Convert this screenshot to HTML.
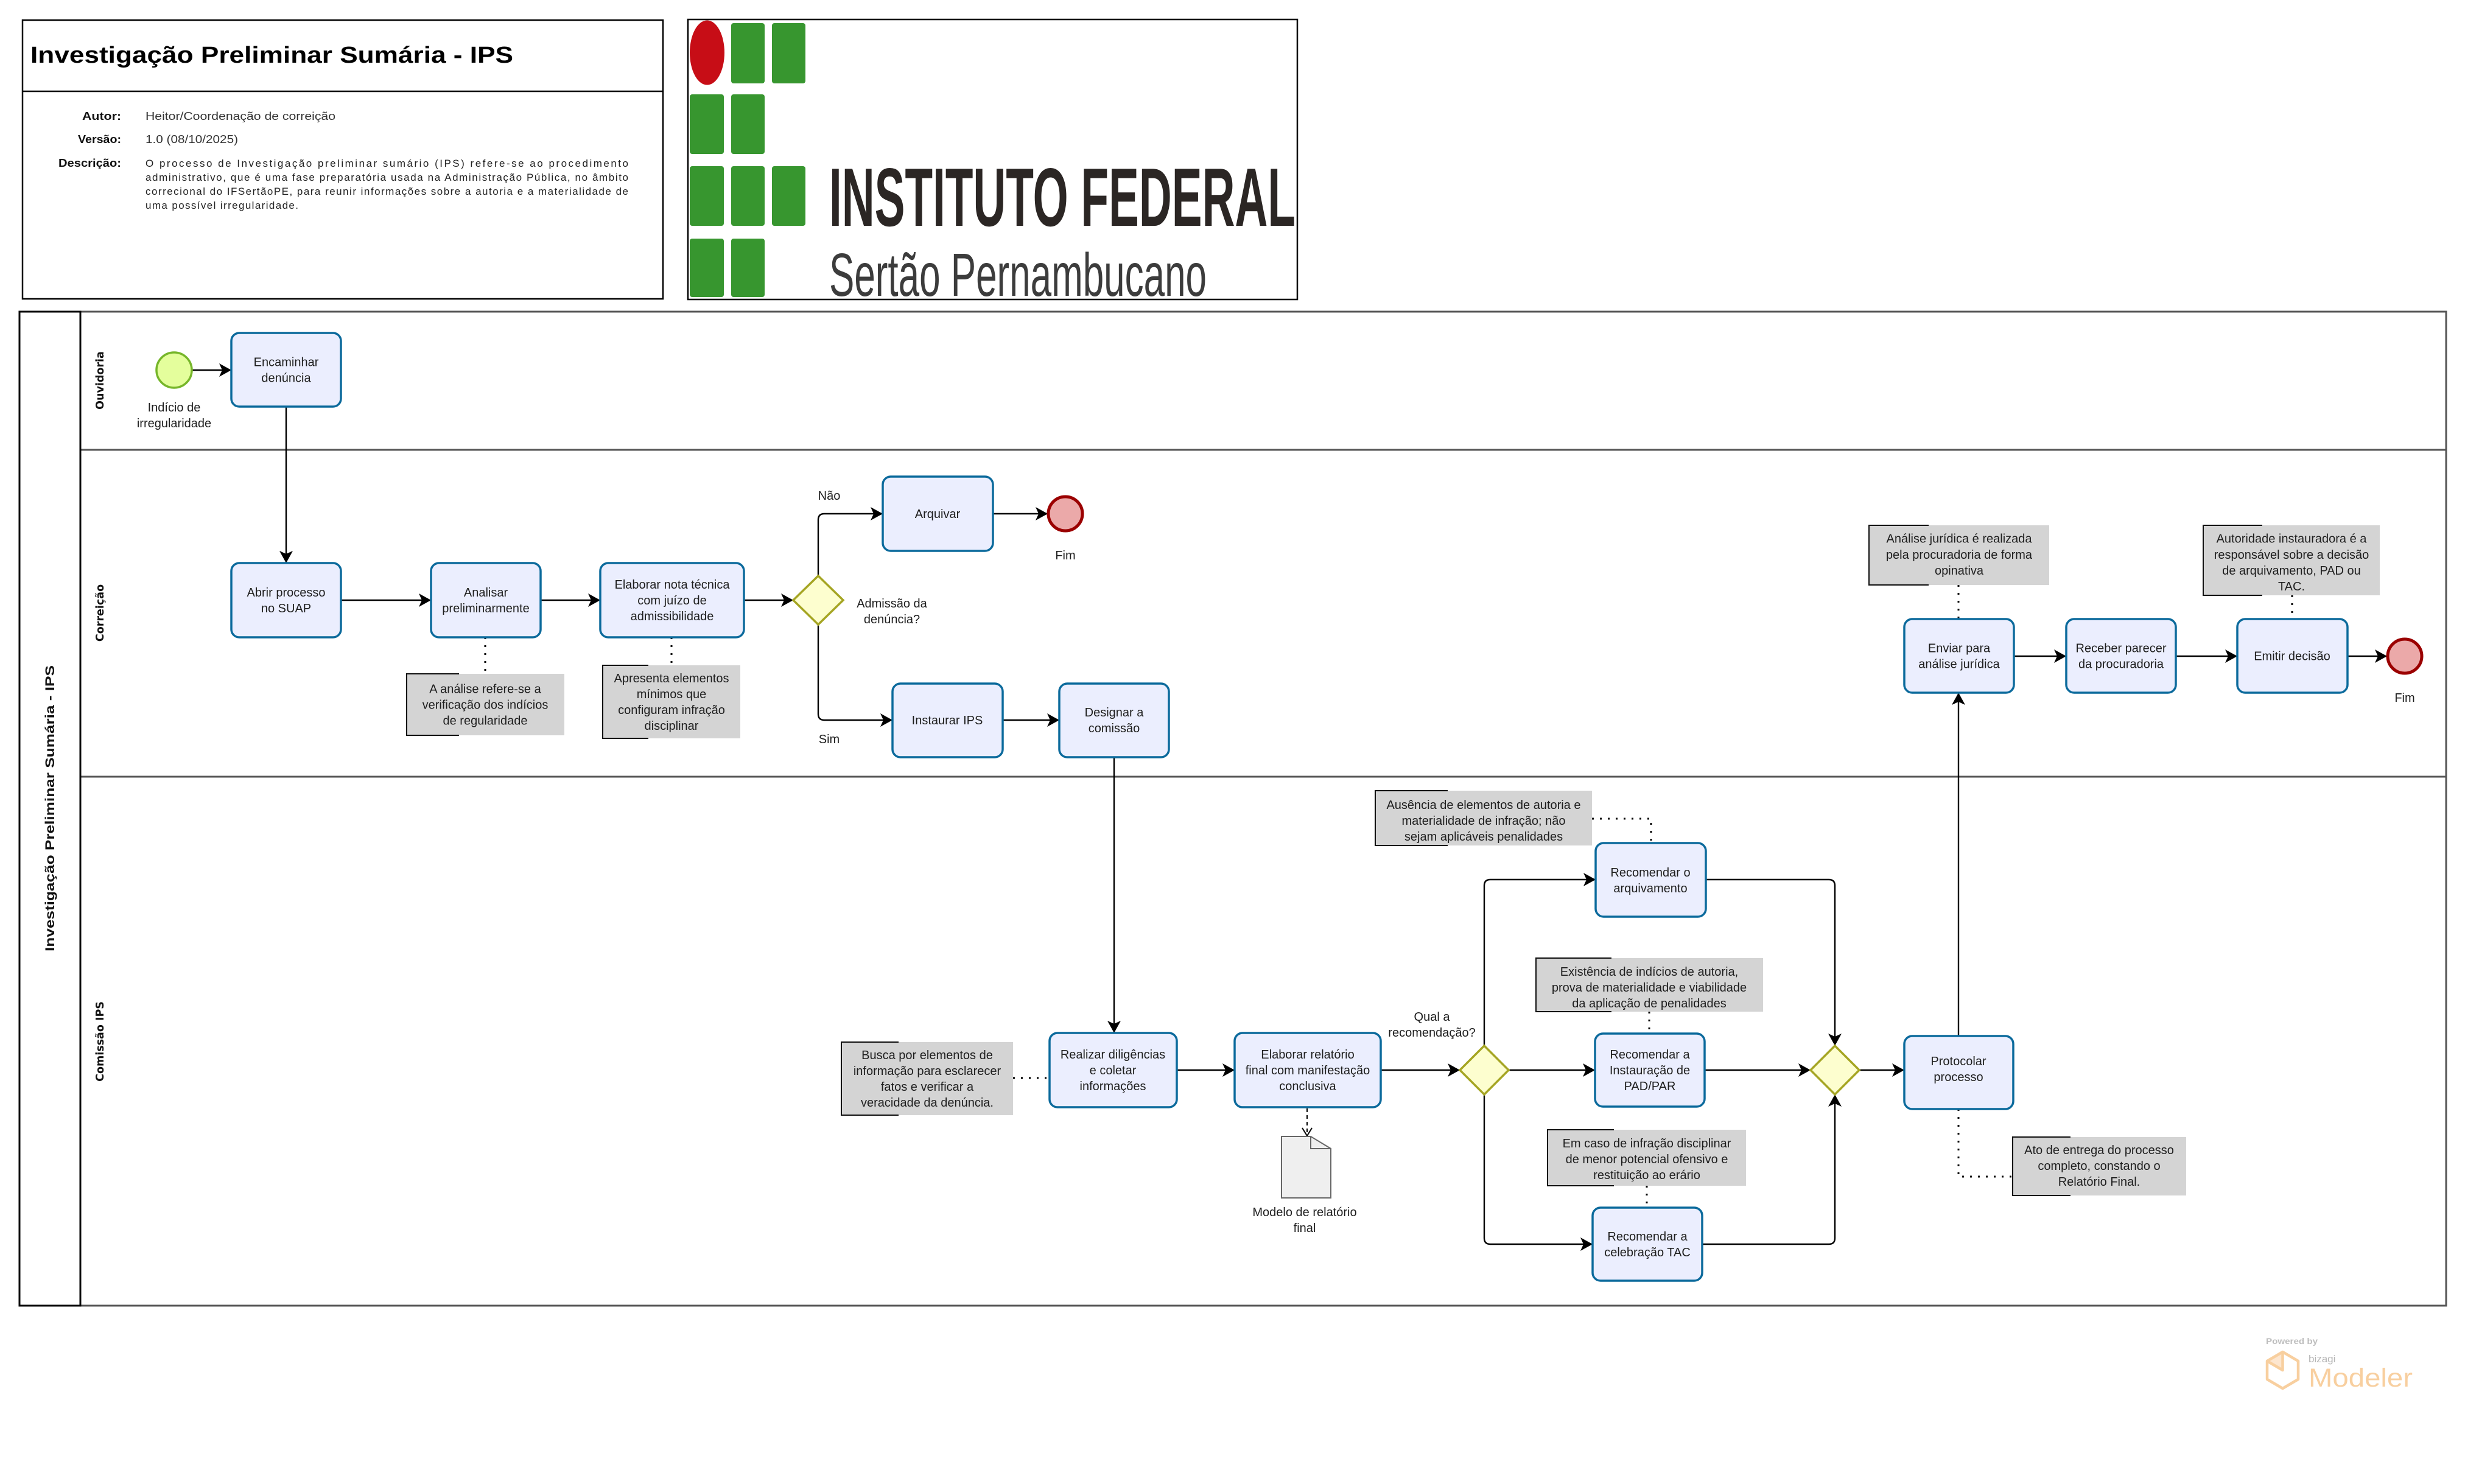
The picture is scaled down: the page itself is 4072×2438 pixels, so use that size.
<!DOCTYPE html>
<html>
<head>
<meta charset="utf-8">
<style>
html,body{margin:0;padding:0;background:#fff;}
svg{display:block;}
text{font-family:"Liberation Sans",Arial,sans-serif;}
.t{font-size:20px;fill:#1e1e1e;text-anchor:middle;}
.lane{font-family:"DejaVu Sans","Liberation Sans",sans-serif;font-size:17.5px;font-weight:bold;fill:#111;text-anchor:middle;}
.task{fill:#ebeefe;stroke:#0b6a9c;stroke-width:3.5;}
.ann{fill:#d4d4d4;}
.br{fill:none;stroke:#111;stroke-width:2;}
.fl{fill:none;stroke:#000;stroke-width:2.4;}
.dot{fill:none;stroke:#000;stroke-width:3;stroke-dasharray:3,10;}
.gw{fill:#fdfecf;stroke:#a5a523;stroke-width:3.5;}
.end{fill:#eba9a9;stroke:#9b0000;stroke-width:5;}
</style>
</head>
<body>
<svg xmlns="http://www.w3.org/2000/svg" width="4072" height="2438" viewBox="0 0 4072 2438">
<defs>
<marker id="ah" viewBox="0 0 20 22" refX="20" refY="11" markerWidth="20" markerHeight="22" markerUnits="userSpaceOnUse" orient="auto">
<path d="M0,0 L20,11 L0,22 L5,11 Z" fill="#000"/>
</marker>
</defs>

<!-- Header box -->
<rect x="37" y="33" width="1052" height="458" fill="#fff" stroke="#000" stroke-width="2.5"/>
<line x1="37" y1="150" x2="1089" y2="150" stroke="#000" stroke-width="2.5"/>
<text x="50" y="103" font-size="38" font-weight="bold" fill="#000" textLength="793" lengthAdjust="spacingAndGlyphs">Investigação Preliminar Sumária - IPS</text>
<text x="135" y="197" font-size="18" font-weight="bold" fill="#111" textLength="64" lengthAdjust="spacingAndGlyphs">Autor:</text>
<text x="128" y="235" font-size="18" font-weight="bold" fill="#111" textLength="71" lengthAdjust="spacingAndGlyphs">Versão:</text>
<text x="96" y="274" font-size="18" font-weight="bold" fill="#111" textLength="103" lengthAdjust="spacingAndGlyphs">Descrição:</text>
<text x="239" y="197" font-size="18" fill="#333" textLength="312" lengthAdjust="spacingAndGlyphs">Heitor/Coordenação de correição</text>
<text x="239" y="235" font-size="18" fill="#333" textLength="152" lengthAdjust="spacingAndGlyphs">1.0 (08/10/2025)</text>
<text x="239" y="274" font-size="17" fill="#222" textLength="793" lengthAdjust="spacing">O processo de Investigação preliminar sumário (IPS) refere-se ao procedimento</text>
<text x="239" y="297" font-size="17" fill="#222" textLength="793" lengthAdjust="spacing">administrativo, que é uma fase preparatória usada na Administração Pública, no âmbito</text>
<text x="239" y="320" font-size="17" fill="#222" textLength="793" lengthAdjust="spacing">correcional do IFSertãoPE, para reunir informações sobre a autoria e a materialidade de</text>
<text x="239" y="343" font-size="17" fill="#222" textLength="251" lengthAdjust="spacing">uma possível irregularidade.</text>

<!-- Logo box -->
<rect x="1130" y="32" width="1001" height="460" fill="#fff" stroke="#000" stroke-width="2.5"/>
<ellipse cx="1161.5" cy="86.5" rx="28.5" ry="53" fill="#c70d16"/>
<g fill="#37962f">
<rect x="1201" y="38" width="55" height="99" rx="4"/>
<rect x="1268" y="38" width="55" height="99" rx="4"/>
<rect x="1133" y="155" width="56" height="98" rx="4"/>
<rect x="1201" y="155" width="55" height="98" rx="4"/>
<rect x="1133" y="273" width="56" height="98" rx="4"/>
<rect x="1201" y="273" width="55" height="98" rx="4"/>
<rect x="1268" y="273" width="55" height="98" rx="4"/>
<rect x="1133" y="392" width="56" height="96" rx="4"/>
<rect x="1201" y="392" width="55" height="96" rx="4"/>
</g>
<text x="1362" y="371" font-size="136" font-weight="bold" fill="#2b2624" textLength="766" lengthAdjust="spacingAndGlyphs">INSTITUTO FEDERAL</text>
<text x="1362" y="486" font-size="100" fill="#3c3c3c" textLength="620" lengthAdjust="spacingAndGlyphs">Sertão Pernambucano</text>

<!-- Pool -->
<rect x="132" y="512" width="3886" height="1633" fill="#fff" stroke="#555" stroke-width="3"/>
<line x1="132" y1="739" x2="4018" y2="739" stroke="#555" stroke-width="3"/>
<line x1="132" y1="1276" x2="4018" y2="1276" stroke="#555" stroke-width="3"/>
<rect x="32" y="512" width="100" height="1633" fill="#fff" stroke="#000" stroke-width="3"/>
<text transform="translate(89,1328) rotate(-90)" font-size="21" font-weight="bold" fill="#111" text-anchor="middle" textLength="470" lengthAdjust="spacingAndGlyphs">Investigação Preliminar Sumária - IPS</text>
<text class="lane" transform="translate(170,625) rotate(-90)">Ouvidoria</text>
<text class="lane" transform="translate(170,1007) rotate(-90)">Correição</text>
<text class="lane" transform="translate(170,1711) rotate(-90)">Comissão IPS</text>

<!-- Sequence flows -->
<g class="fl" marker-end="url(#ah)">
<path d="M315,608 H380"/>
<path d="M470,668 V925"/>
<path d="M560,986 H708"/>
<path d="M888,986 H986"/>
<path d="M1222,986 H1303"/>
<path d="M1344,946 V854 Q1344,844 1354,844 H1450"/>
<path d="M1631,844 H1721"/>
<path d="M1344,1026 V1173 Q1344,1183 1354,1183 H1466"/>
<path d="M1647,1183 H1740"/>
<path d="M1830,1244 V1697"/>
<path d="M1933,1758 H2028"/>
<path d="M2268,1758 H2398"/>
<path d="M2438,1718 V1455 Q2438,1445 2448,1445 H2621"/>
<path d="M2478,1758 H2620"/>
<path d="M2438,1798 V2034 Q2438,2044 2448,2044 H2616"/>
<path d="M2802,1445 H3004 Q3014,1445 3014,1455 V1718"/>
<path d="M2800,1758 H2974"/>
<path d="M2796,2044 H3004 Q3014,2044 3014,2034 V1798"/>
<path d="M3054,1758 H3128"/>
<path d="M3217,1702 V1138"/>
<path d="M3308,1078 H3394"/>
<path d="M3574,1078 H3675"/>
<path d="M3856,1078 H3921"/>
</g>

<!-- Associations -->
<g class="dot">
<path d="M797,1047 V1107"/>
<path d="M1103,1047 V1093"/>
<path d="M1664,1771 H1724"/>
<path d="M2615,1345 H2712 V1385"/>
<path d="M2709,1662 V1698"/>
<path d="M2705,1948 V1984"/>
<path d="M3217,1822 V1933 H3306"/>
<path d="M3217,961 V1017"/>
<path d="M3765,978 V1017"/>
</g>
<!-- data association -->
<path d="M2147,1821 V1865" fill="none" stroke="#000" stroke-width="2" stroke-dasharray="6,5"/>
<path d="M2139,1853 L2147,1866 L2155,1853" fill="none" stroke="#000" stroke-width="2"/>

<!-- Events -->
<circle cx="286" cy="608" r="29" fill="#e4fe9c" stroke="#76b62a" stroke-width="3.5"/>
<text class="t" x="286" y="676">Indício de</text>
<text class="t" x="286" y="702">irregularidade</text>
<circle class="end" cx="1750" cy="844" r="28"/>
<text class="t" x="1750" y="919">Fim</text>
<circle class="end" cx="3950" cy="1078" r="28"/>
<text class="t" x="3950" y="1153">Fim</text>

<!-- Gateways -->
<path class="gw" d="M1344,946 L1385,986 L1344,1026 L1303,986 Z"/>
<text class="t" x="1465" y="998">Admissão da</text>
<text class="t" x="1465" y="1024">denúncia?</text>
<text class="t" x="1362" y="821">Não</text>
<text class="t" x="1362" y="1221">Sim</text>
<path class="gw" d="M2438,1718 L2478,1758 L2438,1798 L2398,1758 Z"/>
<text class="t" x="2352" y="1677">Qual a</text>
<text class="t" x="2352" y="1703">recomendação?</text>
<path class="gw" d="M3014,1718 L3054,1758 L3014,1798 L2974,1758 Z"/>

<!-- Tasks -->
<rect class="task" x="380" y="547" width="180" height="121" rx="13"/>
<text class="t" x="470" y="601.5">Encaminhar</text>
<text class="t" x="470" y="627.5">denúncia</text>

<rect class="task" x="380" y="925" width="180" height="122" rx="13"/>
<text class="t" x="470" y="980">Abrir processo</text>
<text class="t" x="470" y="1006">no SUAP</text>

<rect class="task" x="708" y="925" width="180" height="122" rx="13"/>
<text class="t" x="798" y="980">Analisar</text>
<text class="t" x="798" y="1006">preliminarmente</text>

<rect class="task" x="986" y="925" width="236" height="122" rx="13"/>
<text class="t" x="1104" y="967">Elaborar nota técnica</text>
<text class="t" x="1104" y="993">com juízo de</text>
<text class="t" x="1104" y="1019">admissibilidade</text>

<rect class="task" x="1450" y="783" width="181" height="122" rx="13"/>
<text class="t" x="1540" y="851">Arquivar</text>

<rect class="task" x="1466" y="1123" width="181" height="121" rx="13"/>
<text class="t" x="1556" y="1190">Instaurar IPS</text>

<rect class="task" x="1740" y="1123" width="180" height="121" rx="13"/>
<text class="t" x="1830" y="1177">Designar a</text>
<text class="t" x="1830" y="1203">comissão</text>

<rect class="task" x="1724" y="1697" width="209" height="122" rx="13"/>
<text class="t" x="1828" y="1739">Realizar diligências</text>
<text class="t" x="1828" y="1765">e coletar</text>
<text class="t" x="1828" y="1791">informações</text>

<rect class="task" x="2028" y="1697" width="240" height="122" rx="13"/>
<text class="t" x="2148" y="1739">Elaborar relatório</text>
<text class="t" x="2148" y="1765">final com manifestação</text>
<text class="t" x="2148" y="1791">conclusiva</text>

<rect class="task" x="2621" y="1385" width="181" height="121" rx="13"/>
<text class="t" x="2711" y="1440">Recomendar o</text>
<text class="t" x="2711" y="1466">arquivamento</text>

<rect class="task" x="2620" y="1698" width="180" height="120" rx="13"/>
<text class="t" x="2710" y="1739">Recomendar a</text>
<text class="t" x="2710" y="1765">Instauração de</text>
<text class="t" x="2710" y="1791">PAD/PAR</text>

<rect class="task" x="2616" y="1984" width="180" height="120" rx="13"/>
<text class="t" x="2706" y="2038">Recomendar a</text>
<text class="t" x="2706" y="2064">celebração TAC</text>

<rect class="task" x="3128" y="1702" width="179" height="120" rx="13"/>
<text class="t" x="3217" y="1750">Protocolar</text>
<text class="t" x="3217" y="1776">processo</text>

<rect class="task" x="3128" y="1017" width="180" height="121" rx="13"/>
<text class="t" x="3218" y="1071.5">Enviar para</text>
<text class="t" x="3218" y="1097.5">análise jurídica</text>

<rect class="task" x="3394" y="1017" width="180" height="121" rx="13"/>
<text class="t" x="3484" y="1071.5">Receber parecer</text>
<text class="t" x="3484" y="1097.5">da procuradoria</text>

<rect class="task" x="3675" y="1017" width="181" height="121" rx="13"/>
<text class="t" x="3765" y="1084.5">Emitir decisão</text>

<!-- Data object -->
<path d="M2105,1867 H2153 L2186,1887 V1968 H2105 Z" fill="#efefef" stroke="#666" stroke-width="2"/>
<path d="M2153,1867 V1887 H2186" fill="none" stroke="#666" stroke-width="2"/>
<text class="t" x="2143" y="1998">Modelo de relatório</text>
<text class="t" x="2143" y="2024">final</text>

<!-- Annotations -->
<rect class="ann" x="668" y="1107" width="259" height="101"/>
<path class="br" d="M754,1107 H668 V1208 H754"/>
<text class="t" x="797" y="1138.5">A análise refere-se a</text>
<text class="t" x="797" y="1164.5">verificação dos indícios</text>
<text class="t" x="797" y="1190.5">de regularidade</text>

<rect class="ann" x="990" y="1093" width="226" height="120"/>
<path class="br" d="M1065,1093 H990 V1213 H1065"/>
<text class="t" x="1103" y="1121">Apresenta elementos</text>
<text class="t" x="1103" y="1147">mínimos que</text>
<text class="t" x="1103" y="1173">configuram infração</text>
<text class="t" x="1103" y="1199">disciplinar</text>

<rect class="ann" x="1382" y="1712" width="282" height="120"/>
<path class="br" d="M1476,1712 H1382 V1832 H1476"/>
<text class="t" x="1523" y="1740">Busca por elementos de</text>
<text class="t" x="1523" y="1766">informação para esclarecer</text>
<text class="t" x="1523" y="1792">fatos e verificar a</text>
<text class="t" x="1523" y="1818">veracidade da denúncia.</text>

<rect class="ann" x="2259" y="1299" width="356" height="90"/>
<path class="br" d="M2378,1299 H2259 V1389 H2378"/>
<text class="t" x="2437" y="1329">Ausência de elementos de autoria e</text>
<text class="t" x="2437" y="1355">materialidade de infração; não</text>
<text class="t" x="2437" y="1381">sejam aplicáveis penalidades</text>

<rect class="ann" x="2523" y="1574" width="373" height="88"/>
<path class="br" d="M2647,1574 H2523 V1662 H2647"/>
<text class="t" x="2709" y="1603">Existência de indícios de autoria,</text>
<text class="t" x="2709" y="1629">prova de materialidade e viabilidade</text>
<text class="t" x="2709" y="1655">da aplicação de penalidades</text>

<rect class="ann" x="2542" y="1856" width="326" height="92"/>
<path class="br" d="M2651,1856 H2542 V1948 H2651"/>
<text class="t" x="2705" y="1885">Em caso de infração disciplinar</text>
<text class="t" x="2705" y="1911">de menor potencial ofensivo e</text>
<text class="t" x="2705" y="1937">restituição ao erário</text>

<rect class="ann" x="3306" y="1868" width="285" height="96"/>
<path class="br" d="M3401,1868 H3306 V1964 H3401"/>
<text class="t" x="3448" y="1896">Ato de entrega do processo</text>
<text class="t" x="3448" y="1922">completo, constando o</text>
<text class="t" x="3448" y="1948">Relatório Final.</text>

<rect class="ann" x="3070" y="863" width="296" height="98"/>
<path class="br" d="M3168,863 H3070 V961 H3168"/>
<text class="t" x="3218" y="891.5">Análise jurídica é realizada</text>
<text class="t" x="3218" y="918">pela procuradoria de forma</text>
<text class="t" x="3218" y="944">opinativa</text>

<rect class="ann" x="3619" y="863" width="290" height="115"/>
<path class="br" d="M3716,863 H3619 V978 H3716"/>
<text class="t" x="3764" y="891.5">Autoridade instauradora é a</text>
<text class="t" x="3764" y="918">responsável sobre a decisão</text>
<text class="t" x="3764" y="944">de arquivamento, PAD ou</text>
<text class="t" x="3764" y="970">TAC.</text>

<!-- Powered by -->
<text x="3722" y="2208" font-size="14" font-weight="bold" fill="#bdbdbd" textLength="85" lengthAdjust="spacingAndGlyphs">Powered by</text>
<path d="M3749.5,2221 L3749.5,2251 L3725,2236.5 Z" fill="#fde6cf"/>
<path d="M3749.5,2221 L3775,2236 L3775,2266 L3749.5,2281 L3724,2266 L3724,2236 Z" fill="none" stroke="#f8cf9f" stroke-width="4.5" stroke-linejoin="round"/>
<path d="M3749.5,2221 V2251 L3724,2236" fill="none" stroke="#f8cf9f" stroke-width="4.5" stroke-linejoin="round"/>
<text x="3792" y="2238" font-size="17" fill="#b5b5b5">bizagi</text>
<text x="3792" y="2278" font-size="43" fill="#f8cf9f" textLength="171" lengthAdjust="spacingAndGlyphs">Modeler</text>
</svg>
</body>
</html>
